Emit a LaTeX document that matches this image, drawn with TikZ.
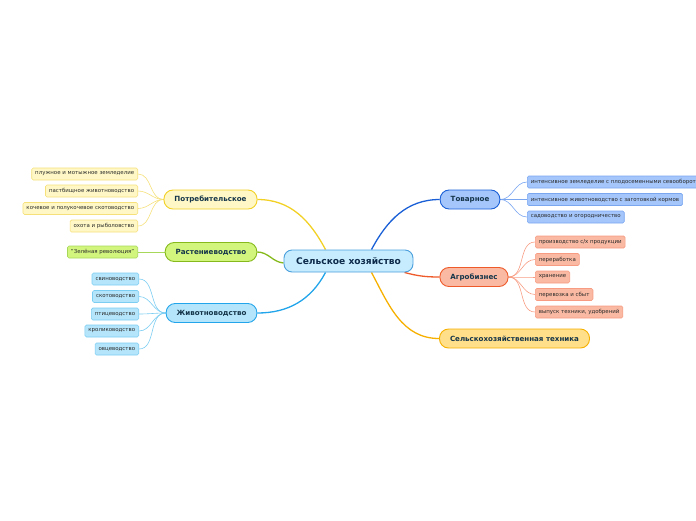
\documentclass[tikz,border=0pt]{standalone}
\usepackage{fontspec}
\setmainfont{DejaVu Sans}
\usepackage{xcolor}
\usetikzlibrary{positioning, calc, backgrounds}

\definecolor{rootfill}{HTML}{C6ECFD}
\definecolor{rootline}{HTML}{4A9FDC}
\definecolor{potrfill}{HTML}{FFF8C6}
\definecolor{potrline}{HTML}{F2D024}
\definecolor{potrleaf}{HTML}{F5E07A}
\definecolor{rasfill}{HTML}{D2F57E}
\definecolor{rasline}{HTML}{86BA1C}
\definecolor{rasleaf}{HTML}{A8D85A}
\definecolor{zhivfill}{HTML}{B5E5FA}
\definecolor{zhivline}{HTML}{22A5EA}
\definecolor{zhivleaf}{HTML}{7CCDF2}
\definecolor{tovfill}{HTML}{A4C6FB}
\definecolor{tovline}{HTML}{1A5FD6}
\definecolor{tovleaf}{HTML}{7AA6F0}
\definecolor{agrofill}{HTML}{F9B9A2}
\definecolor{agroline}{HTML}{EF5A2A}
\definecolor{agroleaf}{HTML}{F79C82}
\definecolor{techfill}{HTML}{FFDF8A}
\definecolor{techline}{HTML}{F6B000}
\definecolor{maintext}{HTML}{0D2A4A}
\definecolor{branchtext}{HTML}{15354A}
\definecolor{leaftext}{HTML}{2A2A2A}

\begin{document}
\begin{tikzpicture}[
    x=1pt, y=-1pt,
    root/.style={rectangle, rounded corners=8pt, draw=rootline, fill=rootfill, line width=0.9pt, minimum width=129pt, minimum height=22pt, text=maintext, font=\fontsize{9.1}{11}\selectfont\bfseries},
    branch/.style={rectangle, rounded corners=9pt, line width=0.9pt, minimum height=19pt, inner xsep=10.5pt, text=branchtext, font=\fontsize{7.1}{8.5}\selectfont\bfseries},
    leaf/.style={rectangle, rounded corners=1.5pt, line width=0.6pt, minimum height=12pt, inner xsep=3.5pt, inner ysep=1pt, text=leaftext, font=\fontsize{5.45}{6.5}\selectfont},
    twig/.style={line width=0.6pt},
    limb/.style={line width=1.3pt}
]
    \useasboundingbox (0,0) rectangle (696,520);
    \clip (0,0) rectangle (696,520);
    % Root and branches
    \node[root] (root) at (348.5,261) {Сельское хозяйство};
    \node[branch, draw=potrline, fill=potrfill] (potr) at (210.5,199.5) {Потребительское};
    \node[branch, draw=rasline, fill=rasfill] (ras) at (211,252) {Растениеводство};
    \node[branch, draw=zhivline, fill=zhivfill] (zhiv) at (211.5,313) {Животноводство};
    \node[branch, draw=tovline, fill=tovfill] (tov) at (470,199.5) {Товарное};
    \node[branch, draw=agroline, fill=agrofill] (agro) at (474,277) {Агробизнес};
    \node[branch, draw=techline, fill=techfill] (tech) at (514.5,338.5) {Сельскохозяйственная техника};
    % Leaves of Потребительское
    \node[leaf, draw=potrleaf, fill=potrfill, anchor=east] (p1) at (138,174) {плужное и мотыжное земледелие};
    \node[leaf, draw=potrleaf, fill=potrfill, anchor=east] (p2) at (138,191) {пастбищное животноводство};
    \node[leaf, draw=potrleaf, fill=potrfill, anchor=east] (p3) at (138,208.5) {кочевое и полукочевое скотоводство};
    \node[leaf, draw=potrleaf, fill=potrfill, anchor=east] (p4) at (138,226) {охота и рыболовство};
    % Leaf of Растениеводство
    \node[leaf, draw=rasleaf, fill=rasfill, anchor=east] (r1) at (138,252) {"Зелёная революция"};
    % Leaves of Животноводство
    \node[leaf, draw=zhivleaf, fill=zhivfill, anchor=east] (z1) at (139,279) {свиноводство};
    \node[leaf, draw=zhivleaf, fill=zhivfill, anchor=east] (z2) at (139,296.5) {скотоводство};
    \node[leaf, draw=zhivleaf, fill=zhivfill, anchor=east] (z3) at (139,314) {птицеводство};
    \node[leaf, draw=zhivleaf, fill=zhivfill, anchor=east] (z4) at (139,331) {кролиководство};
    \node[leaf, draw=zhivleaf, fill=zhivfill, anchor=east] (z5) at (139,349) {овцеводство};
    % Leaves of Товарное
    \node[leaf, draw=tovleaf, fill=tovfill, anchor=west] (t1) at (527,182) {интенсивное земледелие с плодосеменными севооборотами};
    \node[leaf, draw=tovleaf, fill=tovfill, anchor=west] (t2) at (527,199.5) {интенсивное животноводство с заготовкой кормов};
    \node[leaf, draw=tovleaf, fill=tovfill, anchor=west] (t3) at (527,217) {садоводство и огородничество};
    % Leaves of Агробизнес
    \node[leaf, draw=agroleaf, fill=agrofill, anchor=west] (a1) at (535,242) {производство с/х продукции};
    \node[leaf, draw=agroleaf, fill=agrofill, anchor=west] (a2) at (535,259.5) {переработка};
    \node[leaf, draw=agroleaf, fill=agrofill, anchor=west] (a3) at (535,277) {хранение};
    \node[leaf, draw=agroleaf, fill=agrofill, anchor=west] (a4) at (535,294.5) {перевозка и сбыт};
    \node[leaf, draw=agroleaf, fill=agrofill, anchor=west] (a5) at (535,312) {выпуск техники, удобрений};
    \begin{scope}[on background layer]
    % Main limbs
    \draw[limb, potrline] (potr.east) to[out=0, in=118] ([xshift=-23pt]root.north);
    \draw[limb, rasline] (ras.east) to[out=0, in=175] ([yshift=-2pt]root.west);
    \draw[limb, zhivline] (zhiv.east) to[out=0, in=-118] ([xshift=-23pt]root.south);
    \draw[limb, tovline] ([xshift=23pt]root.north) to[out=62, in=180] (tov.west);
    \draw[limb, agroline] ([xshift=-9pt]root.south east) to[out=-15, in=180] (agro.west);
    \draw[limb, techline] ([xshift=23pt]root.south) to[out=-62, in=180] (tech.west);
    % Twigs to leaves
    \foreach \lf in {p1,p2,p3,p4}
        \draw[twig, potrleaf] (potr.west) to[out=180, in=0] (\lf.east);
    \draw[twig, rasleaf] (ras.west) -- (r1.east);
    \foreach \lf in {z1,z2,z3,z4,z5}
        \draw[twig, zhivleaf] (zhiv.west) to[out=180, in=0] (\lf.east);
    \foreach \lf in {t1,t2,t3}
        \draw[twig, tovleaf] (tov.east) to[out=0, in=180] (\lf.west);
    \foreach \lf in {a1,a2,a3,a4,a5}
        \draw[twig, agroleaf] (agro.east) to[out=0, in=180] (\lf.west);
    \end{scope}
\end{tikzpicture}
\end{document}
